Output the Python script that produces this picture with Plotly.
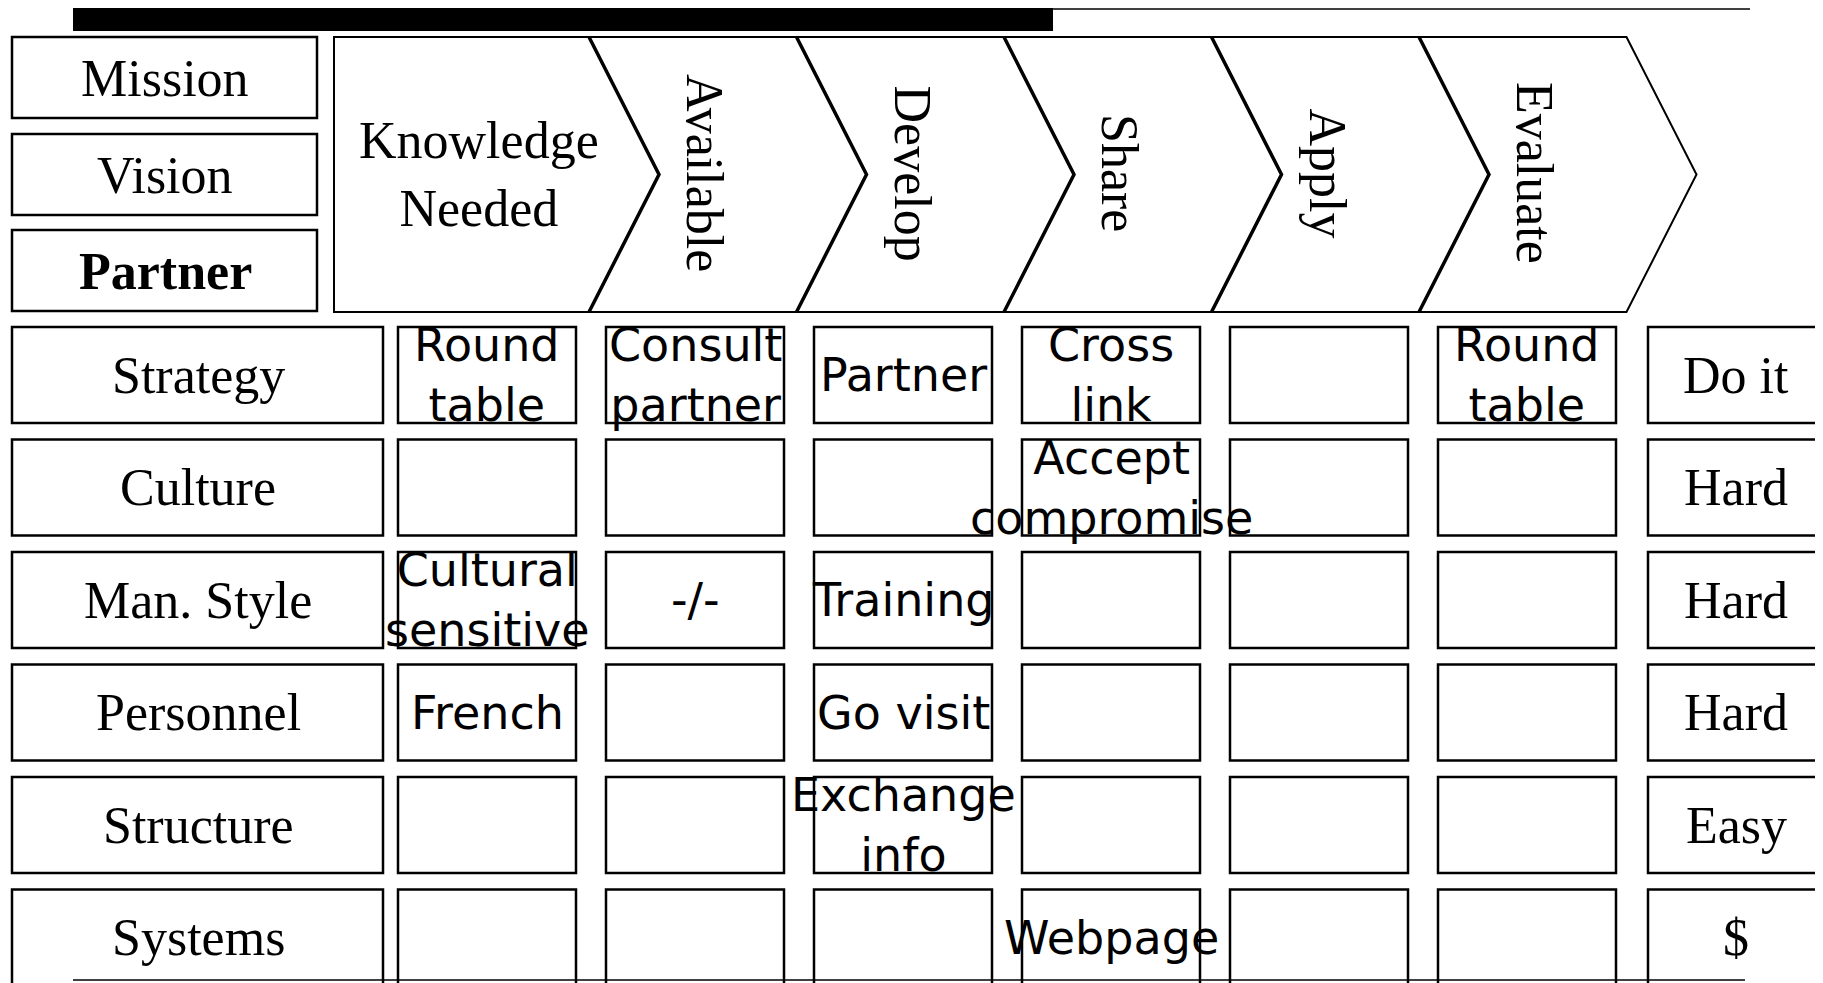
import plotly.graph_objects as go

# ---------------- data ----------------
header_labels = ["Mission", "Vision", "<b>Partner</b>"]
first_stage = "Knowledge<br>Needed"
stage_labels = ["Available", "Develop", "Share", "Apply", "Evaluate"]
row_labels = ["Strategy", "Culture", "Man. Style", "Personnel", "Structure", "Systems"]
cell_texts = [
    ["Round<br>table", "Consult<br>partner", "Partner", "Cross<br>link", "", "Round<br>table"],
    ["", "", "", "Accept<br>compromise", "", ""],
    ["Cultural<br>sensitive", "-/-", "Training", "", "", ""],
    ["French", "", "Go visit", "", "", ""],
    ["", "", "Exchange<br>info", "", "", ""],
    ["", "", "", "Webpage", "", ""],
]
right_labels = ["Do it", "Hard", "Hard", "Hard", "Easy", "$"]

# ---------------- layout geometry ----------------
W, H = 1823, 983
OFF = 8  # page body margin in the browser
SERIF = "Liberation Serif"
SANS = "DejaVu Sans"
SERIF_SIZE = 52
SANS_SIZE = 46
LW = 2.5

shapes = []
annotations = []


def rect(x0, y0, x1, y1, lw=LW, fill=None):
    shapes.append(dict(type="rect", xref="x", yref="y", x0=x0, y0=y0, x1=x1, y1=y1,
                       line=dict(color="black", width=lw),
                       fillcolor=fill if fill else "rgba(0,0,0,0)"))


def text(x, y, s, font, size):
    annotations.append(dict(x=x, y=y, xref="x", yref="y", text=s, showarrow=False,
                            xanchor="center", yanchor="middle",
                            font=dict(family=font, size=size, color="black")))


# top bar and thin page lines
rect(73, 8, 1053, 31, lw=0, fill="black")
shapes.append(dict(type="line", xref="x", yref="y", x0=1053, y0=9, x1=1750, y1=9,
                   line=dict(color="black", width=1.5)))
shapes.append(dict(type="line", xref="x", yref="y", x0=73, y0=980, x1=1745, y1=980,
                   line=dict(color="black", width=1.5)))

# Mission / Vision / Partner boxes
hdr_tops = [37, 134, 230]
for lab, t in zip(header_labels, hdr_tops):
    rect(12, t, 317, t + 81)
    text(165, t + 41, lab, SERIF, SERIF_SIZE)

# chevron band
T, B = 37, 312
M = (T + B) / 2
L = 334
tops = [589 + 207.5 * k for k in range(len(stage_labels) + 1)]
depth = 70
last = tops[-1]
shapes.append(dict(type="path", xref="x", yref="y",
                   path=f"M {L},{T} L {last},{T} L {last + depth},{M} L {last},{B} L {L},{B} Z",
                   line=dict(color="black", width=2)))
for t in tops[:-1]:
    shapes.append(dict(type="path", xref="x", yref="y",
                       path=f"M {t},{T} L {t + depth},{M} L {t},{B}",
                       line=dict(color="black", width=3.5)))
text(479, 174, first_stage, SERIF, SERIF_SIZE)
for lab, t in zip(stage_labels, tops[:-1]):
    annotations.append(dict(x=t + 116, y=173, xref="x", yref="y", text=lab, showarrow=False,
                            textangle=90, xanchor="center", yanchor="middle",
                            font=dict(family=SERIF, size=SERIF_SIZE, color="black")))

# grid
row_top0, row_pitch, row_h = 327, 112.5, 96
col_left0, col_pitch, col_w = 398, 208, 178
for i, lab in enumerate(row_labels):
    y0 = row_top0 + i * row_pitch
    yc = y0 + row_h / 2
    rect(12, y0, 383, y0 + row_h)
    text(198, yc, lab, SERIF, SERIF_SIZE)
    for j, s in enumerate(cell_texts[i]):
        x0 = col_left0 + j * col_pitch
        rect(x0, y0, x0 + col_w, y0 + row_h)
        if s:
            text(x0 + col_w / 2, yc, s, SANS, SANS_SIZE)
    rect(1648, y0, 1822, y0 + row_h)
    text(1736, yc, right_labels[i], SERIF, SERIF_SIZE)

fig = go.Figure()
fig.update_layout(
    width=W, height=H,
    margin=dict(l=0, r=0, t=0, b=0),
    paper_bgcolor="white", plot_bgcolor="white",
    xaxis=dict(range=[OFF, W + OFF], visible=False, fixedrange=True),
    yaxis=dict(range=[H + OFF, OFF], visible=False, fixedrange=True),
    shapes=shapes, annotations=annotations,
    showlegend=False,
)
fig.write_html("out.html")
